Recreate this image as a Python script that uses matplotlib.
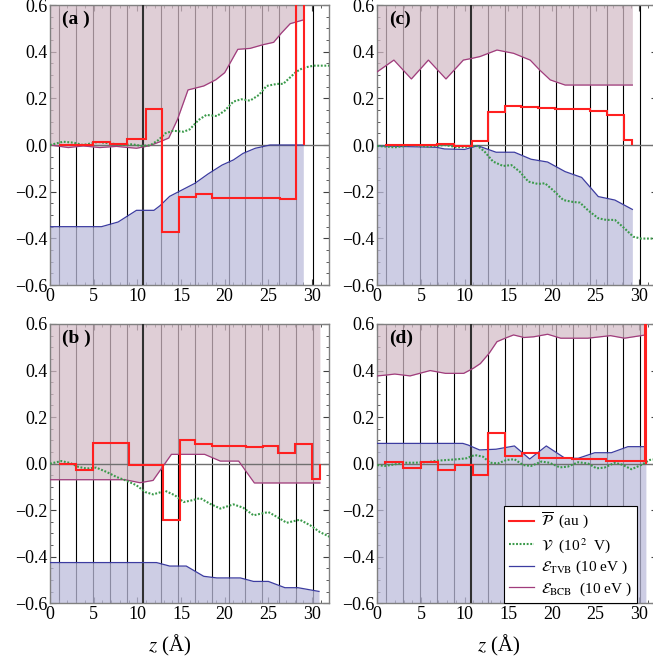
import matplotlib
matplotlib.use('Agg')
import matplotlib.pyplot as plt
from matplotlib.lines import Line2D
from matplotlib.ticker import MultipleLocator, FuncFormatter
import numpy as np

plt.rcParams['font.family'] = ['Liberation Serif', 'DejaVu Serif']
plt.rcParams['mathtext.fontset'] = 'stix'

# atomic plane positions (vertical lines)
planes = [1.0, 2.95, 4.9, 6.85, 8.8, 10.7, 12.7, 14.65, 16.55, 18.5, 20.45, 22.35, 24.3, 26.25, 28.15, 30.1]
thick_plane = 10.7

# ---------------- panel (a) ----------------
a_bcb_z = [0, 2.1, 3.8, 5.7, 7.6, 9.9, 11.4, 12.6, 13.6, 14.6, 15.8, 17.6, 19.0, 20.0, 21.5, 22.9, 24.4, 25.6, 26.5, 27.5, 29.0]
a_bcb = [0.0, -0.011, -0.004, -0.011, -0.006, -0.014, -0.003, 0.014, 0.03, 0.11, 0.236, 0.253, 0.28, 0.31, 0.41, 0.414, 0.43, 0.44, 0.48, 0.52, 0.536]
a_tvb_z = [0, 5.9, 7.8, 9.9, 11.9, 12.6, 13.7, 15.1, 16.6, 18.1, 19.7, 21.0, 22.1, 23.5, 25.2, 29.0]
a_tvb = [-0.35, -0.35, -0.33, -0.28, -0.28, -0.26, -0.22, -0.193, -0.164, -0.124, -0.086, -0.064, -0.036, -0.014, 0.0, 0.0]
a_v_z = [0, 1.5, 2.7, 3.8, 5.5, 6.9, 8.2, 9.4, 10.5, 11.5, 12.4, 13.2, 14.1, 15.3, 16.0, 17.0, 17.9, 19.1, 20.0, 21.0, 21.9, 22.9, 23.9, 24.8, 26.0, 26.7, 27.5, 28.2, 29.0, 30.2, 32.0]
a_v = [0, 0.014, 0.01, 0, 0.013, 0.007, 0, 0.003, -0.004, -0.001, 0.021, 0.05, 0.061, 0.057, 0.067, 0.107, 0.129, 0.124, 0.147, 0.186, 0.196, 0.19, 0.214, 0.253, 0.262, 0.262, 0.29, 0.314, 0.331, 0.34, 0.34]
a_p_edges = [1.0, 4.9, 6.85, 8.85, 10.95, 12.85, 14.8, 16.7, 18.6, 26.3, 28.2, 29.1]
a_p = [0.0, 0.011, 0.006, 0.024, 0.155, -0.372, -0.221, -0.21, -0.228, -0.232, 3.0]

# ---------------- panel (b) ----------------
b_bcb_z = [0, 8.6, 10.3, 11.8, 13.9, 17.7, 19.5, 21.6, 23.4, 30.9]
b_bcb = [-0.069, -0.069, -0.082, -0.072, 0.04, 0.04, 0.011, 0.011, -0.083, -0.083]
b_tvb_z = [0, 12.2, 13.7, 15.6, 17.6, 19.1, 21.8, 23.3, 25.0, 26.9, 28.4, 30.8]
b_tvb = [-0.425, -0.425, -0.44, -0.44, -0.484, -0.491, -0.491, -0.506, -0.506, -0.533, -0.533, -0.549]
b_v_z = [0, 1.3, 2.3, 3.25, 4.2, 5.3, 6.5, 7.6, 8.8, 9.9, 10.9, 11.8, 13.2, 14.3, 15.3, 16.2, 17.2, 18.3, 19.5, 21.0, 22.1, 23.3, 25.0, 26.0, 27.1, 28.6, 29.8, 30.9, 32.0]
b_v = [0, 0.011, 0.003, -0.014, -0.021, -0.017, -0.036, -0.057, -0.074, -0.093, -0.122, -0.132, -0.117, -0.136, -0.165, -0.158, -0.148, -0.172, -0.193, -0.175, -0.189, -0.222, -0.208, -0.229, -0.254, -0.241, -0.265, -0.294, -0.314]
b_p_edges = [1.0, 2.95, 4.9, 9.0, 12.95, 14.85, 16.6, 18.5, 20.5, 22.4, 24.35, 26.1, 28.05, 29.96, 30.9]
b_p = [0.0, -0.027, 0.087, -0.006, -0.241, 0.103, 0.084, 0.077, 0.075, 0.072, 0.074, 0.047, 0.084, -0.067]

# ---------------- panel (c) ----------------
c_bcb_z = [0, 1.9, 3.9, 5.85, 7.86, 9.85, 10.8, 11.75, 13.7, 15.6, 17.5, 18.6, 19.8, 21.5, 29.2]
c_bcb = [0.314, 0.364, 0.283, 0.364, 0.283, 0.364, 0.371, 0.379, 0.407, 0.393, 0.364, 0.321, 0.279, 0.257, 0.257]
c_tvb_z = [0, 6.8, 7.7, 10.0, 11.5, 13.6, 15.7, 17.6, 19.5, 21.5, 23.4, 25.3, 27.2, 29.2]
c_tvb = [-0.004, -0.01, -0.017, -0.019, -0.003, -0.031, -0.031, -0.061, -0.073, -0.114, -0.139, -0.221, -0.236, -0.276]
c_v_z = [0, 2.0, 3.9, 5.8, 7.7, 9.2, 10.6, 11.5, 12.3, 13.25, 14.4, 15.35, 16.3, 17.3, 18.4, 19.2, 20.1, 21.3, 22.4, 23.2, 24.1, 25.3, 26.2, 27.2, 28.3, 29.3, 30.2, 32.0]
c_v = [-0.004, -0.01, 0.0, -0.007, 0.0, -0.01, -0.007, -0.004, -0.029, -0.071, -0.09, -0.086, -0.114, -0.157, -0.167, -0.164, -0.193, -0.236, -0.244, -0.247, -0.279, -0.314, -0.321, -0.321, -0.357, -0.393, -0.401, -0.401]
c_p_edges = [0.92, 6.8, 8.75, 10.8, 12.7, 14.6, 16.5, 18.4, 20.4, 22.3, 24.3, 26.3, 28.2, 29.2]
c_p = [0.002, 0.005, -0.003, 0.019, 0.14, 0.167, 0.161, 0.158, 0.156, 0.153, 0.146, 0.127, 0.021]

# ---------------- panel (d) ----------------
d_bcb_z = [0, 1.1, 2.0, 3.75, 6.05, 7.8, 9.9, 11.0, 11.8, 12.8, 13.7, 14.7, 15.6, 16.8, 17.9, 19.5, 21.0, 24.1, 26.7, 28.3, 30.7]
d_bcb = [0.377, 0.381, 0.385, 0.377, 0.4, 0.388, 0.388, 0.41, 0.43, 0.474, 0.524, 0.54, 0.553, 0.542, 0.545, 0.556, 0.539, 0.539, 0.55, 0.539, 0.553]
d_tvb_z = [0, 9.8, 10.4, 11.7, 13.6, 15.7, 17.45, 19.35, 21.5, 23.0, 24.9, 26.8, 28.7, 30.75]
d_tvb = [0.087, 0.087, 0.08, 0.059, 0.062, 0.076, 0.02, 0.076, 0.023, 0.023, 0.047, 0.047, 0.073, 0.073]
d_v_z = [0, 0.84, 2.0, 3.1, 4.3, 5.8, 6.95, 8.1, 9.2, 10.2, 11.15, 12.1, 12.9, 13.8, 14.8, 15.7, 16.7, 17.6, 18.8, 19.7, 20.9, 21.8, 23.0, 24.1, 25.1, 26.0, 27.2, 28.0, 29.1, 30.2, 31.2, 32.0]
d_v = [-0.006, -0.01, -0.003, 0.004, 0.004, 0.007, 0.013, 0.016, 0.019, 0.023, 0.037, 0.03, 0.004, 0.001, 0.016, 0.019, -0.006, -0.01, 0.009, 0.004, -0.016, -0.013, 0.006, 0.001, -0.02, -0.017, 0.004, -0.004, -0.024, -0.006, 0.016, 0.02]
d_p_edges = [0.92, 2.94, 4.97, 6.9, 8.9, 10.96, 12.7, 14.67, 16.6, 18.5, 22.3, 26.2, 30.65, 30.8]
d_p = [0.007, -0.02, 0.006, -0.027, -0.007, -0.049, 0.132, 0.033, 0.047, 0.024, 0.021, 0.013, 3.0]

panel_labels = ['(a )', '(b )', '(c)', '(d)']
legend_labels = [r'$\overline{\mathcal{P}}$  (au )',
                 r'$\mathcal{V}$  (10$^{\,2}$  V)',
                 r'$\mathcal{E}_{\rm TVB}$ (10 eV )',
                 r'$\mathcal{E}_{\rm BCB}$  (10 eV )']

RED = '#ff2020'
GREEN = '#3a9a4a'
TVB_C = '#3c3ca0'
BCB_C = '#a03c7c'
TVB_FILL = (188/255, 188/255, 219/255)
BCB_FILL = (212/255, 188/255, 199/255)

W, H = 653, 664
fig = plt.figure(figsize=(W/100, H/100), dpi=100)

def axes_at(left, top, right, bottom):
    return fig.add_axes([left/W, 1 - bottom/H, (right-left)/W, (bottom-top)/H])

ax_a = axes_at(50, 5, 329.5, 285)
ax_c = axes_at(377.3, 5, 656.8, 285)
ax_b = axes_at(50, 324, 329.5, 603.3)
ax_d = axes_at(377.3, 324, 656.8, 603.3)

fmt = FuncFormatter(lambda v, p: ('%.1f' % v).replace('-', '\u2212'))

def draw(ax, bz, bv, tz, tv, vz, vv, pe, pv, label):
    ax.set_xlim(0, 32)
    ax.set_ylim(-0.6, 0.6)
    for zp in planes:
        if zp == thick_plane:
            ax.axvline(zp, color='#303030', lw=1.5, zorder=3)
        else:
            ax.axvline(zp, color='black', lw=0.8, zorder=1)
    ax.fill_between(bz, bv, 1.0, color=BCB_FILL, alpha=0.73, lw=0, zorder=2)
    ax.fill_between(tz, -1.0, tv, color=TVB_FILL, alpha=0.745, lw=0, zorder=2)
    ax.axhline(0, color='#707070', lw=1.0, zorder=3)
    ax.plot(tz, tv, color=TVB_C, lw=0.9, zorder=4)
    ax.plot(bz, bv, color=BCB_C, lw=0.9, zorder=4)
    ax.plot(vz, vv, color=GREEN, lw=1.5, ls=(0, (0.9, 0.8)), zorder=5)
    ax.stairs(pv, pe, baseline=0, color=RED, lw=1.5, zorder=6)
    ax.xaxis.set_major_locator(MultipleLocator(5))
    ax.xaxis.set_minor_locator(MultipleLocator(1))
    ax.yaxis.set_major_locator(MultipleLocator(0.2))
    ax.yaxis.set_minor_locator(MultipleLocator(0.05))
    ax.yaxis.set_major_formatter(fmt)
    ax.tick_params(which='both', direction='in', top=True, right=True,
                   color='#404040', labelsize=13, pad=2)
    ax.tick_params(which='major', length=4, width=0.8)
    ax.tick_params(which='minor', length=2, width=0.6)
    for s in ax.spines.values():
        s.set_color('#808080')
        s.set_linewidth(1.0)
    ax.text(0.043, 0.978, label, transform=ax.transAxes, ha='left', va='top',
            fontsize=14, fontweight='bold', zorder=10)

draw(ax_a, a_bcb_z, a_bcb, a_tvb_z, a_tvb, a_v_z, a_v, a_p_edges, a_p, panel_labels[0])
draw(ax_b, b_bcb_z, b_bcb, b_tvb_z, b_tvb, b_v_z, b_v, b_p_edges, b_p, panel_labels[1])
draw(ax_c, c_bcb_z, c_bcb, c_tvb_z, c_tvb, c_v_z, c_v, c_p_edges, c_p, panel_labels[2])
draw(ax_d, d_bcb_z, d_bcb, d_tvb_z, d_tvb, d_v_z, d_v, d_p_edges, d_p, panel_labels[3])

for ax, xc in ((ax_b, 0.43), (ax_d, 0.435)):
    ax.set_xlabel(r'$z$ (Å)', fontsize=15)
    ax.xaxis.set_label_coords(xc, -0.105)

handles = [Line2D([], [], color=RED, lw=1.5),
           Line2D([], [], color=GREEN, lw=1.5, ls=(0, (0.9, 0.8))),
           Line2D([], [], color=TVB_C, lw=0.9),
           Line2D([], [], color=BCB_C, lw=0.9)]
leg = ax_d.legend(handles, legend_labels, loc='lower right',
                  bbox_to_anchor=(29.75, -0.6), bbox_transform=ax_d.transData,
                  borderaxespad=0, fancybox=False, framealpha=1, edgecolor='black',
                  fontsize=11, handlelength=1.6, labelspacing=0.28, handletextpad=0.5,
                  borderpad=0.35)
leg.get_frame().set_linewidth(0.8)
leg.set_zorder(20)

fig.savefig('out.png', dpi=100)
